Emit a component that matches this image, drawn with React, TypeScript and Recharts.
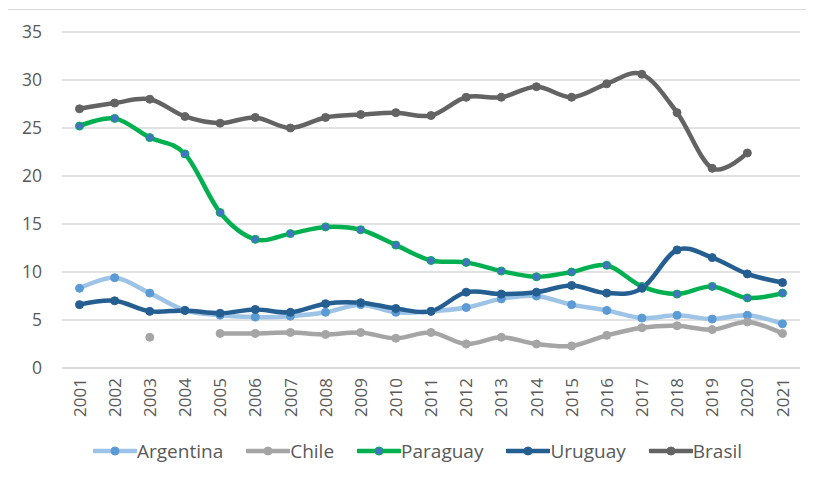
import { LineChart, Line, XAxis, YAxis, CartesianGrid, Legend } from 'recharts'

const years = ['2001', '2002', '2003', '2004', '2005', '2006', '2007', '2008', '2009', '2010', '2011',
  '2012', '2013', '2014', '2015', '2016', '2017', '2018', '2019', '2020', '2021']

const argentina = [8.3, 9.4, 7.8, 6.0, 5.5, 5.3, 5.4, 5.8, 6.6, 5.8, 5.9, 6.3, 7.2, 7.5, 6.6, 6.0, 5.2, 5.5, 5.1, 5.5, 4.6]
const chile = [null, null, 3.2, null, 3.6, 3.6, 3.7, 3.5, 3.7, 3.1, 3.7, 2.5, 3.2, 2.5, 2.3, 3.4, 4.2, 4.4, 4.0, 4.8, 3.6]
const paraguay = [25.2, 26.0, 24.0, 22.3, 16.2, 13.4, 14.0, 14.7, 14.4, 12.8, 11.2, 11.0, 10.1, 9.5, 10.0, 10.7, 8.5, 7.7, 8.5, 7.3, 7.8]
const uruguay = [6.6, 7.0, 5.9, 6.0, 5.7, 6.1, 5.8, 6.7, 6.8, 6.2, 5.9, 7.9, 7.7, 7.9, 8.6, 7.8, 8.3, 12.3, 11.5, 9.8, 8.9]
const brasil = [27.0, 27.6, 28.0, 26.2, 25.5, 26.1, 25.0, 26.1, 26.4, 26.6, 26.3, 28.2, 28.2, 29.3, 28.2, 29.6, 30.6, 26.6, 20.8, 22.4, null]

const yTicks = [0, 5, 10, 15, 20, 25, 30, 35]

const series = [
  { key: 'Argentina', line: '#9DC3E6', dot: '#5B9BD5', dotStroke: '#5B9BD5' },
  { key: 'Chile', line: '#A5A5A5', dot: '#A5A5A5', dotStroke: '#A5A5A5' },
  { key: 'Paraguay', line: '#00B050', dot: '#4472C4', dotStroke: '#00B050' },
  { key: 'Uruguay', line: '#255E91', dot: '#255E91', dotStroke: '#255E91' },
  { key: 'Brasil', line: '#636363', dot: '#636363', dotStroke: '#636363' },
]

const chartData = years.map((year, i) => ({
  year,
  Argentina: argentina[i],
  Chile: chile[i],
  Paraguay: paraguay[i],
  Uruguay: uruguay[i],
  Brasil: brasil[i],
}))

const textColor = '#595959'
const font = '"Open Sans", sans-serif'

// Excel-style smoothing (Catmull-Rom, same as d3 curveCardinal with tension 0)
function smoothCurve(context: any) {
  const k = 1 / 6
  let x0 = NaN, y0 = NaN, x1 = NaN, y1 = NaN, x2 = NaN, y2 = NaN
  let pt = 0
  let line = NaN
  const seg = (x: number, y: number) => {
    context.bezierCurveTo(
      x1 + k * (x2 - x0), y1 + k * (y2 - y0),
      x2 + k * (x1 - x), y2 + k * (y1 - y),
      x2, y2
    )
  }
  return {
    areaStart() { line = 0 },
    areaEnd() { line = NaN },
    lineStart() {
      x0 = x1 = x2 = y0 = y1 = y2 = NaN
      pt = 0
    },
    lineEnd() {
      if (pt === 2) context.lineTo(x2, y2)
      else if (pt === 3) seg(x1, y1)
      if (line || (line !== 0 && pt === 1)) context.closePath()
      line = 1 - line
    },
    point(x: number, y: number) {
      x = +x; y = +y
      if (pt === 0) {
        pt = 1
        line ? context.lineTo(x, y) : context.moveTo(x, y)
      } else if (pt === 1) {
        pt = 2
        x1 = x; y1 = y
      } else {
        pt = 3
        seg(x, y)
      }
      x0 = x1; x1 = x2; x2 = x
      y0 = y1; y1 = y2; y2 = y
    },
  }
}

const YearTick = ({ x, y, payload }: any) => (
  <g transform={`translate(${x},${y})`}>
    <text transform="rotate(-90)" textAnchor="end" dy="0.36em" fill={textColor}
      style={{ fontFamily: font, fontSize: 17 }}>
      {payload.value}
    </text>
  </g>
)

const renderLegend = () => (
  <div style={{ display: 'flex', alignItems: 'center', height: 26, fontFamily: font, fontSize: 19, color: textColor }}>
    {series.map(s => (
      <div key={s.key} style={{ display: 'flex', alignItems: 'center', marginRight: 23 }}>
        <svg width={44} height={12}>
          <line x1={1} y1={6} x2={43} y2={6} stroke={s.line} strokeWidth={4.5} strokeLinecap="round" />
          <circle cx={22} cy={6} r={4} fill={s.dot} stroke={s.dotStroke} strokeWidth={1} />
        </svg>
        <span style={{ lineHeight: '26px' }}>{s.key}</span>
      </div>
    ))}
  </div>
)

export default function App() {
  return (
    <div style={{
      marginLeft: -1, marginTop: 1, width: 807, height: 469,
      borderLeft: '1px solid #D9D9D9', borderTop: '1px solid #D9D9D9', boxSizing: 'border-box',
    }}>
      <LineChart width={806} height={468} data={chartData}
        margin={{ top: 22, right: 14, left: 0, bottom: 50 }}>
        <CartesianGrid vertical={false} stroke="#D9D9D9" strokeWidth={1.5} />
        <XAxis dataKey="year" height={60} interval={0} tickLine={false} tickSize={0} tickMargin={10}
          padding={{ left: 17.5, right: 17.5 }}
          axisLine={{ stroke: '#D9D9D9', strokeWidth: 1.5 }} tick={<YearTick />} />
        <YAxis domain={[0, 35]} ticks={yTicks} width={54} axisLine={false} tickLine={false}
          tickSize={0} tickMargin={20}
          tick={{ fill: textColor, fontSize: 17.5, fontFamily: font }} />
        <Legend layout="horizontal" verticalAlign="middle" align="center" content={renderLegend}
          wrapperStyle={{ top: 428, left: 85, width: 715, height: 26 }} />
        {series.map(s => (
          <Line key={s.key} dataKey={s.key} type={smoothCurve as any} stroke={s.line} strokeWidth={4.5}
            dot={{ r: 4, fill: s.dot, stroke: s.dotStroke, strokeWidth: 1 }}
            activeDot={false} connectNulls={false} isAnimationActive={false} />
        ))}
      </LineChart>
    </div>
  )
}
